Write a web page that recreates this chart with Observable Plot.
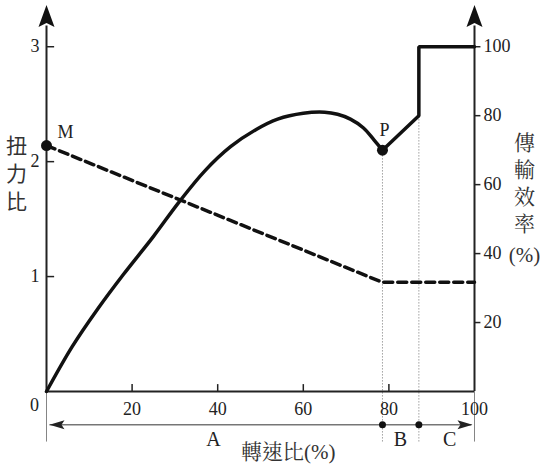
<!DOCTYPE html>
<html><head><meta charset="utf-8">
<script src="https://cdn.jsdelivr.net/npm/d3@7"></script>
<script src="https://cdn.jsdelivr.net/npm/@observablehq/plot@0.6"></script>
<style>html,body{margin:0;background:#fff;overflow:hidden}svg{display:block}</style>
</head><body><div id="chart"></div>
<script>
// Efficiency curve (converter range), speed ratio % -> transmission efficiency %
const speedCurve = [0, 6, 12, 18, 25, 31, 37, 43, 49, 54, 60, 65, 68, 71, 74, 76.5, 78.5];
const effCurve   = [0, 13, 24, 34, 45, 55, 64, 71, 76, 79, 80.7, 81, 80.4, 79, 76.5, 73, 70];
// Coupling range
const speedCoupling = [78.5, 87, 87, 100];
const effCoupling   = [70, 80, 100, 100];
// Torque ratio (dashed)
const speedTorque = [0, 78.5, 100];
const torqueRatio = [2.14, 0.95, 0.95];
// Ticks
const torqueTicks = [1, 2, 3];
const effTicks = [20, 40, 60, 80, 100];
const speedTicks = [20, 40, 60, 80, 100];
// Phases
const phaseBounds = [78.5, 87];
const phaseLabels = ["A", "B", "C"];
const phaseLabelPos = [39, 82.7, 94.2];
const leftTitle = ["扭", "力", "比"];
const rightTitle = ["傳", "輸", "效", "率", "(%)"];
const effToTorque = 3 / 100; // right axis 100% aligns with torque ratio 3

const serif = "Liberation Serif, Noto Serif CJK TC, Noto Sans CJK TC, serif";
const cjk = "Noto Sans CJK TC, sans-serif";

const yTop = 3.35, plotH = 464 - 6 - 73, pxUnit = yTop / plotH; // data units per pixel

const curveData = speedCurve.map((s, i) => ({s, e: effCurve[i]}));
const couplingData = speedCoupling.map((s, i) => ({s, e: effCoupling[i]}));
const torqueData = speedTorque.map((s, i) => ({s, t: torqueRatio[i]}));

const arrowUp = {draw(c) { c.moveTo(0, -21); c.lineTo(8, 1); c.lineTo(0, -3); c.lineTo(-8, 1); c.closePath(); }};
const arrowLeft = {draw(c) { c.moveTo(-7, 0); c.lineTo(8, -4.5); c.lineTo(5, 0); c.lineTo(8, 4.5); c.closePath(); }};
const arrowRight = {draw(c) { c.moveTo(7, 0); c.lineTo(-8, -4.5); c.lineTo(-5, 0); c.lineTo(-8, 4.5); c.closePath(); }};

const axisTop = 3.18, below = -0.44, arrowY = -0.29;

const chart = Plot.plot({
  width: 548, height: 464,
  marginLeft: 46, marginRight: 74, marginTop: 6, marginBottom: 73,
  x: {domain: [0, 100], axis: null},
  y: {domain: [0, yTop], axis: null},
  marks: [
    // thin guide lines below the axis
    Plot.ruleX([0, 100], {x: d => d, y1: 0, y2: below, stroke: "#777", strokeWidth: 0.9}),
    Plot.ruleX([{x: phaseBounds[0], top: effCurve[effCurve.length - 1] * effToTorque},
                {x: phaseBounds[1], top: effCoupling[1] * effToTorque}],
      {x: "x", y1: below, y2: "top", stroke: "#888", strokeWidth: 0.8, strokeDasharray: "1.5,1.5"}),
    // axes
    Plot.ruleX([0, 100], {x: d => d, y1: 0, y2: axisTop, stroke: "#222", strokeWidth: 2}),
    Plot.ruleY([0], {x1: 0, x2: 100, stroke: "#222", strokeWidth: 2}),
    Plot.dot([0, 100], {x: d => d, y: axisTop, symbol: arrowUp, fill: "#111", stroke: "none", r: 5}),
    // left ticks
    Plot.ruleY(torqueTicks, {y: d => d, x1: 0, x2: 1.9, stroke: "#222", strokeWidth: 1.5}),
    Plot.text(torqueTicks, {y: d => d, frameAnchor: "left", dx: -7, textAnchor: "end", text: d => String(d), fontSize: 18, fontFamily: serif, fill: "#222"}),
    // right ticks
    Plot.ruleY(effTicks, {y: d => d * effToTorque, x1: 100, x2: 101.5, stroke: "#222", strokeWidth: 1.5}),
    Plot.text(effTicks, {y: d => d * effToTorque, frameAnchor: "right", dx: 9, textAnchor: "start", text: d => String(d), fontSize: 18, fontFamily: serif, fill: "#222"}),
    // x ticks
    Plot.ruleX(speedTicks.filter(d => d < 100), {x: d => d, y1: 0, y2: 0.06, stroke: "#222", strokeWidth: 1.5}),
    Plot.text(speedTicks, {x: d => d, y: 0, dy: 18, text: d => String(d), fontSize: 18, fontFamily: serif, fill: "#222"}),
    Plot.text(["0"], {x: 0, y: 0, dx: -12, dy: 14, fontSize: 18, fontFamily: serif, fill: "#222"}),
    // phase arrow
    Plot.ruleY([arrowY], {x1: 0.8, x2: 99.4, stroke: "#333", strokeWidth: 1}),
    Plot.dot([0], {x: 0, y: arrowY, dx: 10, symbol: arrowLeft, fill: "#222", stroke: "none"}),
    Plot.dot([100], {x: 100, y: arrowY, dx: -9, symbol: arrowRight, fill: "#222", stroke: "none"}),
    Plot.dot(phaseBounds, {x: d => d, y: arrowY, r: 3.5, fill: "#111"}),
    Plot.text(phaseLabels, {x: (d, i) => phaseLabelPos[i], y: arrowY, dy: 15, text: d => d, fontSize: 20, fontFamily: serif, fill: "#222"}),
    // data
    Plot.line(torqueData, {x: "s", y: "t", stroke: "#111", strokeWidth: 3.5, strokeDasharray: "9,5"}),
    Plot.line(curveData, {x: "s", y: d => d.e * effToTorque, curve: "catmull-rom", stroke: "#111", strokeWidth: 3.5}),
    Plot.line(couplingData, {x: "s", y: d => d.e * effToTorque, stroke: "#111", strokeWidth: 3.5, strokeLinejoin: "miter"}),
    Plot.dot([torqueData[0]], {x: "s", y: "t", r: 5.5, fill: "#111"}),
    Plot.dot([curveData[curveData.length - 1]], {x: "s", y: d => d.e * effToTorque, r: 5.5, fill: "#111"}),
    Plot.text(["M"], {x: speedTorque[0], y: torqueRatio[0], dx: 19, dy: -13, fontSize: 18, fontFamily: serif, fill: "#222"}),
    Plot.text(["P"], {x: speedCurve[speedCurve.length - 1], y: effCurve[effCurve.length - 1] * effToTorque, dx: 2, dy: -20, fontSize: 18, fontFamily: serif, fill: "#222"}),
    // axis titles (one glyph per text, stacked vertically)
    Plot.text(leftTitle, {frameAnchor: "left", textAnchor: "middle", dx: -30,
      y: (d, i) => 2.132 - i * 28 * pxUnit, text: d => d, fontSize: 21, fontFamily: cjk, fill: "#333"}),
    Plot.text(rightTitle, {frameAnchor: "right", textAnchor: "middle", dx: 50,
      y: (d, i) => 2.158 - (i * 27 + (i === 4 ? 4 : 0)) * pxUnit, text: d => d, fontSize: 21, fontFamily: serif, fill: "#333"}),
    Plot.text(["轉速比(%)"], {x: 56.5, y: 0, dy: 61, fontSize: 21, fontFamily: serif, fill: "#333"})
  ]
});
document.getElementById("chart").append(chart);
</script>
</body></html>
